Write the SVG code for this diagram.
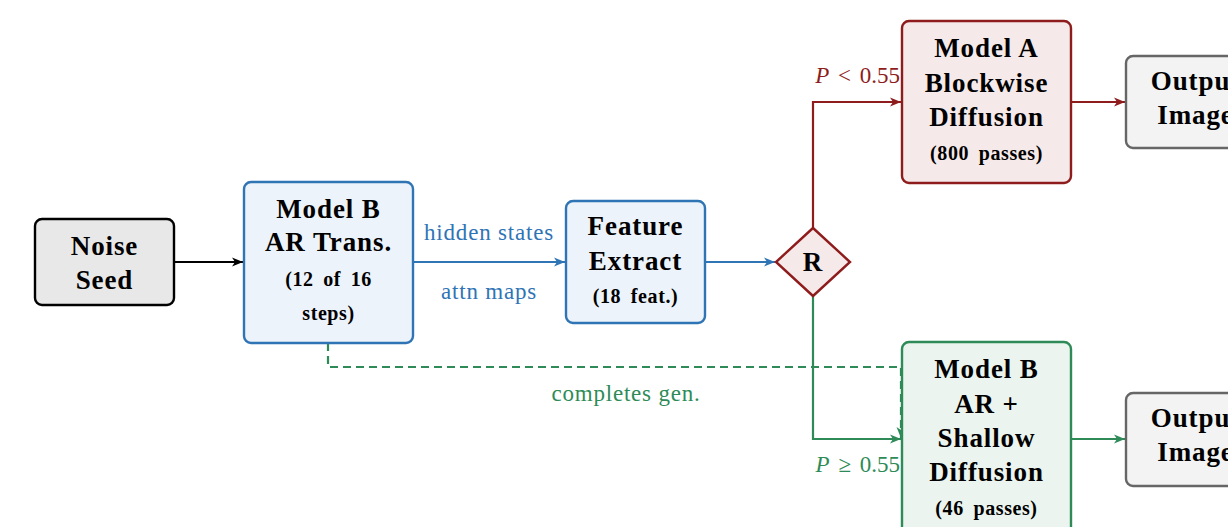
<svg xmlns="http://www.w3.org/2000/svg" width="1228" height="527" viewBox="0 0 1228 527">
  <defs>
    <marker id="ah-black" markerUnits="userSpaceOnUse" markerWidth="12" markerHeight="10" refX="11" refY="5" orient="auto">
      <path d="M0,0.5 L11,5 L0,9.5 L3,5 Z" fill="#000"/>
    </marker>
    <marker id="ah-blue" markerUnits="userSpaceOnUse" markerWidth="12" markerHeight="10" refX="11" refY="5" orient="auto">
      <path d="M0,0.5 L11,5 L0,9.5 L3,5 Z" fill="#2f74b5"/>
    </marker>
    <marker id="ah-red" markerUnits="userSpaceOnUse" markerWidth="12" markerHeight="10" refX="11" refY="5" orient="auto">
      <path d="M0,0.5 L11,5 L0,9.5 L3,5 Z" fill="#8e1c1c"/>
    </marker>
    <marker id="ah-green" markerUnits="userSpaceOnUse" markerWidth="12" markerHeight="10" refX="11" refY="5" orient="auto">
      <path d="M0,0.5 L11,5 L0,9.5 L3,5 Z" fill="#2e8b57"/>
    </marker>
  </defs>
  <style>
    .t { font-family: "Liberation Serif", "DejaVu Serif", serif; font-weight: bold; font-size: 27px; fill: #000; text-anchor: middle; letter-spacing: 0.9px; }
    .s { font-size: 20px; letter-spacing: 0.6px; word-spacing: 4px; }
    .lbl { font-family: "Liberation Serif", "DejaVu Serif", serif; font-size: 23px; text-anchor: middle; letter-spacing: 0.8px; }
    .math { font-family: "Liberation Serif", "DejaVu Serif", serif; font-size: 23px; text-anchor: end; word-spacing: 3px; }
    .box { stroke-width: 2.4; }
    .wire { fill: none; stroke-width: 2.2; }
  </style>

  <!-- connectors -->
  <g id="connectors">
    <line class="wire" x1="174" y1="262" x2="243" y2="262" stroke="#000" marker-end="url(#ah-black)"/>
    <line class="wire" x1="413" y1="262" x2="565" y2="262" stroke="#2f74b5" marker-end="url(#ah-blue)"/>
    <line class="wire" x1="705" y1="262" x2="775" y2="262" stroke="#2f74b5" marker-end="url(#ah-blue)"/>
    <path class="wire" d="M813,228 V102 H901" stroke="#8e1c1c" marker-end="url(#ah-red)"/>
    <line class="wire" x1="1071" y1="102" x2="1125" y2="102" stroke="#8e1c1c" marker-end="url(#ah-red)"/>
    <path class="wire" d="M813,296 V439 H901" stroke="#2e8b57" marker-end="url(#ah-green)"/>
    <line class="wire" x1="1071" y1="439" x2="1125" y2="439" stroke="#2e8b57" marker-end="url(#ah-green)"/>
    <path class="wire" d="M328,343 V367 H901 V438" stroke="#2e8b57" stroke-dasharray="8,5" marker-end="url(#ah-green)"/>
    <text class="lbl" x="489" y="240" fill="#2f74b5">hidden states</text>
    <text class="lbl" x="489" y="299" fill="#2f74b5">attn maps</text>
    <text class="lbl" x="626" y="401" fill="#2e8b57">completes gen.</text>
    <text class="math" x="900" y="83" fill="#8e1c1c"><tspan font-style="italic">P</tspan> &lt; 0.55</text>
    <text class="math" x="900" y="472" fill="#2e8b57"><tspan font-style="italic">P</tspan> ≥ 0.55</text>
  </g>

  <!-- noise seed -->
  <g id="noise-seed">
    <rect class="box" x="35" y="219" width="139" height="86" rx="7" fill="#e8e8e8" stroke="#000"/>
    <text class="t" x="104.5" y="255">Noise</text>
    <text class="t" x="104.5" y="289">Seed</text>
  </g>

  <!-- autoregressive transformer stage -->
  <g id="model-b-ar">
    <rect class="box" x="244" y="182" width="169" height="161" rx="7" fill="#edf3fa" stroke="#2f74b5"/>
    <text class="t" x="328.5" y="218">Model B</text>
    <text class="t" x="328.5" y="251">AR Trans.</text>
    <text class="t s" x="328.5" y="286">(12 of 16</text>
    <text class="t s" x="328.5" y="320">steps)</text>
  </g>

  <!-- feature extraction -->
  <g id="feature-extract">
    <rect class="box" x="566" y="201" width="139" height="122" rx="7" fill="#edf3fa" stroke="#2f74b5"/>
    <text class="t" x="635.5" y="235">Feature</text>
    <text class="t" x="635.5" y="270">Extract</text>
    <text class="t s" x="635.5" y="303">(18 feat.)</text>
  </g>

  <!-- router -->
  <g id="router">
    <polygon class="box" points="813,228 850,262 813,296 776,262" fill="#f5e9e9" stroke="#8e1c1c"/>
    <text class="t" x="813" y="271" font-size="25">R</text>
  </g>

  <!-- blockwise diffusion branch -->
  <g id="model-a">
    <rect class="box" x="902" y="21" width="169" height="162" rx="7" fill="#f5e9e9" stroke="#8e1c1c"/>
    <text class="t" x="986.5" y="57">Model A</text>
    <text class="t" x="986.5" y="92">Blockwise</text>
    <text class="t" x="986.5" y="126">Diffusion</text>
    <text class="t s" x="986.5" y="160">(800 passes)</text>
  </g>

  <g id="output-a">
    <rect class="box" x="1126" y="56" width="139" height="92" rx="7" fill="#f3f3f3" stroke="#666"/>
    <text class="t" x="1195.5" y="90">Output</text>
    <text class="t" x="1195.5" y="124">Image</text>
  </g>

  <!-- shallow diffusion branch -->
  <g id="model-b-shallow">
    <rect class="box" x="902" y="342" width="169" height="200" rx="7" fill="#ebf4ee" stroke="#2e8b57"/>
    <text class="t" x="986.5" y="378">Model B</text>
    <text class="t" x="986.5" y="413">AR +</text>
    <text class="t" x="986.5" y="447">Shallow</text>
    <text class="t" x="986.5" y="481">Diffusion</text>
    <text class="t s" x="986.5" y="515">(46 passes)</text>
  </g>

  <g id="output-b">
    <rect class="box" x="1126" y="393" width="139" height="93" rx="7" fill="#f3f3f3" stroke="#666"/>
    <text class="t" x="1195.5" y="427">Output</text>
    <text class="t" x="1195.5" y="461">Image</text>
  </g>
</svg>
